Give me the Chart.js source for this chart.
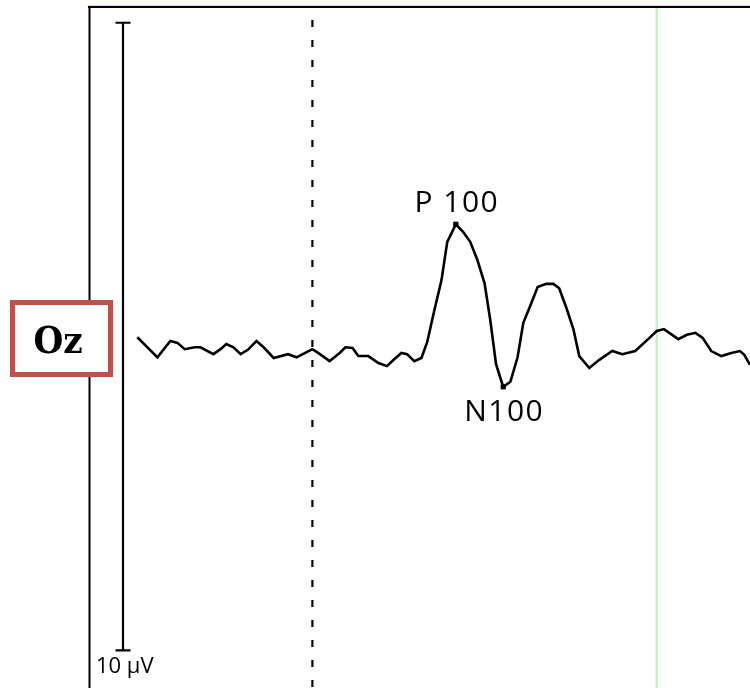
<!DOCTYPE html>
<html>
<head>
<meta charset="utf-8">
<script src="https://cdn.jsdelivr.net/npm/chart.js@4/dist/chart.umd.min.js"></script>
<style>
  html, body { margin: 0; padding: 0; background: #fff; overflow: hidden; }
  canvas { display: block; }
</style>
</head>
<body>
<canvas id="erp" width="750" height="688"></canvas>
<script>
// Grand-average visual evoked potential at Oz: time (ms) vs amplitude (µV)
const timeMs = [
  -122, -108, -99, -94, -89, -82, -78, -69, -64, -60, -55, -50, -45, -39, -34, -27,
  -17, -11, -5, 0, 4, 12, 19, 23, 28, 32, 39, 46, 52, 57, 62, 66, 71, 76, 80, 85,
  90, 94, 100, 105, 110, 115, 120, 124, 128, 133, 138, 143, 147, 152, 157, 163,
  168, 172, 177, 182, 186, 193, 200, 209, 216, 225, 234, 240, 245, 255, 261, 267,
  272, 278, 285, 292, 298, 301, 305
];
const amplitudeUV = [
  -0.01, -0.33, -0.07, -0.10, -0.20, -0.17, -0.17, -0.28, -0.20, -0.12, -0.17, -0.28, -0.21, -0.07, -0.17, -0.34,
  -0.28, -0.33, -0.26, -0.20, -0.26, -0.39, -0.26, -0.17, -0.18, -0.31, -0.31, -0.42, -0.47, -0.36, -0.26, -0.28, -0.39, -0.34, -0.09, 0.42,
  0.90, 1.51, 1.79, 1.67, 1.51, 1.22, 0.85, 0.26, -0.44, -0.80, -0.72, -0.33, 0.22, 0.50, 0.79, 0.84,
  0.84, 0.77, 0.46, 0.11, -0.31, -0.50, -0.37, -0.23, -0.28, -0.23, -0.04, 0.09, 0.12, -0.04, 0.03, 0.06,
  -0.02, -0.23, -0.31, -0.26, -0.23, -0.29, -0.45
];

// Labelled components (latency in ms, amplitude in µV)
const peakNames = ['P 100', 'N100'];
const peakTimes = [100, 133];
const peakValues = [1.79, -0.80];

const channelName = 'Oz';
const onsetMs = 0;          // stimulus onset
const cursorMs = 240;       // cursor position
const scaleBarUV = 10;      // calibration bar height
const scaleBarLabel = '10 µV';

const overlay = {
  id: 'overlay',
  beforeDatasetsDraw(chart) {
    const { ctx, chartArea: a, scales: { x, y } } = chart;
    ctx.save();

    // cursor line
    const xc = x.getPixelForValue(cursorMs);
    ctx.strokeStyle = '#c2f5c0';
    ctx.lineWidth = 2.5;
    ctx.beginPath();
    ctx.moveTo(xc, a.top);
    ctx.lineTo(xc, a.bottom);
    ctx.stroke();

    // stimulus onset (dashed)
    const xo = x.getPixelForValue(onsetMs);
    ctx.strokeStyle = '#000';
    ctx.lineWidth = 2.2;
    ctx.setLineDash([7, 13]);
    ctx.lineDashOffset = a.top;
    ctx.beginPath();
    ctx.moveTo(xo, a.top);
    ctx.lineTo(xo, a.bottom);
    ctx.stroke();
    ctx.setLineDash([]);

    // calibration bar
    const xb = a.left + 33;
    const yt = y.getPixelForValue(scaleBarUV / 2);
    const yb = y.getPixelForValue(-scaleBarUV / 2);
    ctx.lineWidth = 2.2;
    ctx.beginPath();
    ctx.moveTo(xb, yt); ctx.lineTo(xb, yb);
    ctx.moveTo(xb - 7.5, yt); ctx.lineTo(xb + 7.5, yt);
    ctx.moveTo(xb - 7.5, yb); ctx.lineTo(xb + 7.5, yb);
    ctx.stroke();

    ctx.fillStyle = '#000';
    ctx.font = '22px "Open Sans"';
    ctx.textAlign = 'left';
    ctx.textBaseline = 'alphabetic';
    ctx.fillText(scaleBarLabel, a.left + 6, yb + 23);

    ctx.restore();
  },
  afterDraw(chart) {
    const { ctx, chartArea: a } = chart;
    ctx.save();

    // frame: top and left edges
    ctx.strokeStyle = '#ffff00';
    ctx.lineWidth = 1;
    ctx.beginPath();
    ctx.moveTo(a.left - 2, a.top - 2.5);
    ctx.lineTo(a.right, a.top - 2.5);
    ctx.stroke();
    ctx.strokeStyle = '#000';
    ctx.lineWidth = 2;
    ctx.beginPath();
    ctx.moveTo(a.left - 2, a.top - 1);
    ctx.lineTo(a.right, a.top - 1);
    ctx.moveTo(a.left - 0.5, a.top - 2);
    ctx.lineTo(a.left - 0.5, a.bottom);
    ctx.stroke();

    // component labels
    const meta = chart.getDatasetMeta(1);
    ctx.fillStyle = '#000';
    ctx.font = '30px "Open Sans"';
    ctx.letterSpacing = '1.5px';
    ctx.textAlign = 'center';
    ctx.textBaseline = 'alphabetic';
    meta.data.forEach((pt, i) => {
      const above = peakValues[i] >= 0;
      ctx.fillText(peakNames[i], pt.x + 1, above ? pt.y - 12 : pt.y + 34);
    });
    ctx.letterSpacing = '0px';

    // channel badge
    ctx.fillStyle = '#fff';
    ctx.fillRect(10, 300, 103, 77);
    ctx.strokeStyle = '#c0504d';
    ctx.lineWidth = 5;
    ctx.strokeRect(12.5, 302.5, 98, 72);
    ctx.fillStyle = '#000';
    ctx.font = 'bold 38px "DejaVu Serif Condensed", "DejaVu Serif", serif';
    ctx.textAlign = 'center';
    ctx.fillText(channelName, 58, 353);

    ctx.restore();
  }
};

new Chart(document.getElementById('erp'), {
  type: 'line',
  data: {
    datasets: [
      {
        data: timeMs.map((t, i) => ({ x: t, y: amplitudeUV[i] })),
        borderColor: '#000',
        borderWidth: 2.6,
        pointRadius: 0,
        tension: 0,
        clip: 0
      },
      {
        data: peakTimes.map((t, i) => ({ x: t, y: peakValues[i] })),
        showLine: false,
        pointStyle: 'rect',
        pointRadius: 3,
        pointBorderWidth: 1,
        pointBackgroundColor: '#000',
        pointBorderColor: '#000',
        clip: false
      }
    ]
  },
  options: {
    responsive: false,
    animation: false,
    devicePixelRatio: 1,
    layout: { autoPadding: false, padding: { left: 90, top: 8, right: 0, bottom: 0 } },
    plugins: { legend: { display: false }, tooltip: { enabled: false } },
    scales: {
      x: { type: 'linear', min: -155, max: 305, display: false },
      y: { type: 'linear', min: -5.598, max: 5.235, display: false }
    }
  },
  plugins: [overlay]
});
</script>
</body>
</html>
